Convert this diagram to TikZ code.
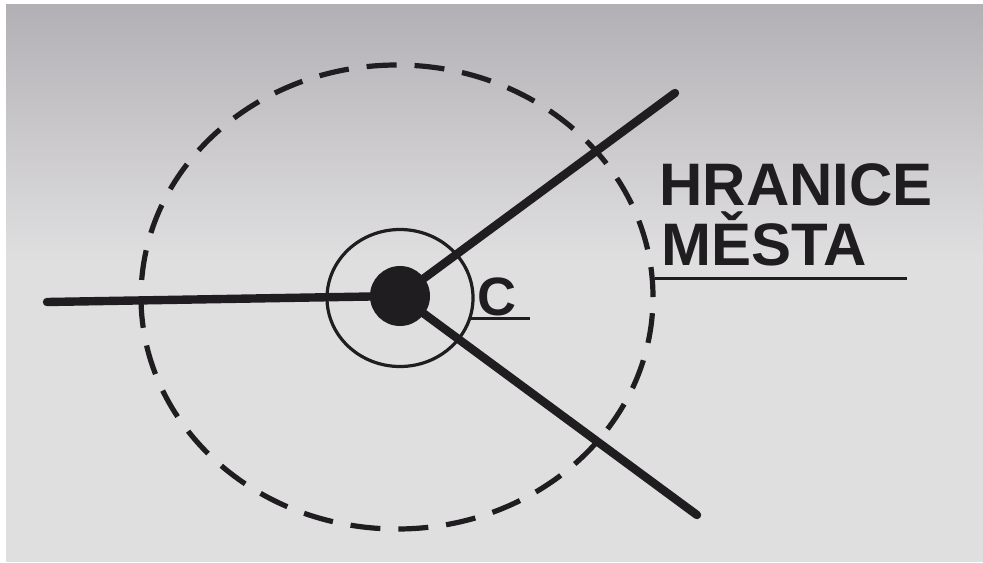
\documentclass[tikz,border=0pt]{standalone}
\usepackage{fontspec}
\setmainfont{Liberation Sans}
\usetikzlibrary{shapes.geometric,positioning,calc}
\definecolor{paperdark}{RGB}{178,176,180}
\definecolor{papermid}{RGB}{212,211,212}
\definecolor{paperlight}{RGB}{224,223,224}
\definecolor{inkblack}{RGB}{32,29,32}

\begin{document}
\begin{tikzpicture}[x=0.5pt,y=-0.5pt,
    spoke/.style={draw=inkblack, line width=4.2pt, line cap=round},
    leader/.style={draw=inkblack, line width=1.5pt},
    coredot/.style={circle, fill=inkblack, inner sep=0pt, minimum size=30pt},
    ring/.style={ellipse, draw=inkblack, line width=1.6pt, inner sep=0pt,
                 minimum width=73pt, minimum height=68.5pt},
    boundary/.style={ellipse, draw=inkblack, line width=2.6pt, inner sep=0pt,
                 dash pattern=on 15pt off 9pt,
                 minimum width=256pt, minimum height=232pt},
    tag/.style={text=inkblack, inner sep=0pt, font=\bfseries}]
  \useasboundingbox (0,0) rectangle (983,562);
  \fill[white] (0,0) rectangle (983,562);
  \fill[paperlight] (6,4) rectangle (983,562);
  \shade[top color=paperdark, middle color=papermid, bottom color=paperlight]
    (6,4) rectangle (983,260);

  % city boundary and centre
  \node[boundary] (city) at (397,297) {};
  \node[ring] (centre) at (400,298) {};
  \node[coredot] (core) at (400,296) {};

  % roads
  \coordinate (westEnd) at (47,302);
  \coordinate (northEastEnd) at (675,93);
  \coordinate (southEastEnd) at (697,515);
  \draw[spoke] (core.center) -- (westEnd);
  \draw[spoke] (core.center) -- (northEastEnd);
  \draw[spoke] (core.center) -- (southEastEnd);

  % labels
  \node[tag, font=\bfseries\fontsize{30}{35}\selectfont, anchor=base west]
    (hranice) at (659,205) {HRANICE};
  \node[tag, font=\bfseries\fontsize{30}{35}\selectfont, anchor=base west]
    (mesta) at (661,265) {MĚSTA};
  \coordinate (cityTail) at (907,280);
  \draw[leader] (city.4) -- (city.4 -| cityTail);

  \node[tag, font=\bfseries\fontsize{27}{30}\selectfont, anchor=base west]
    (centreTag) at (477,315) {C};
  \coordinate (centreTail) at (530,318);
  \draw[leader] (centre.-16) -- (centre.-16 -| centreTail);
\end{tikzpicture}
\end{document}
